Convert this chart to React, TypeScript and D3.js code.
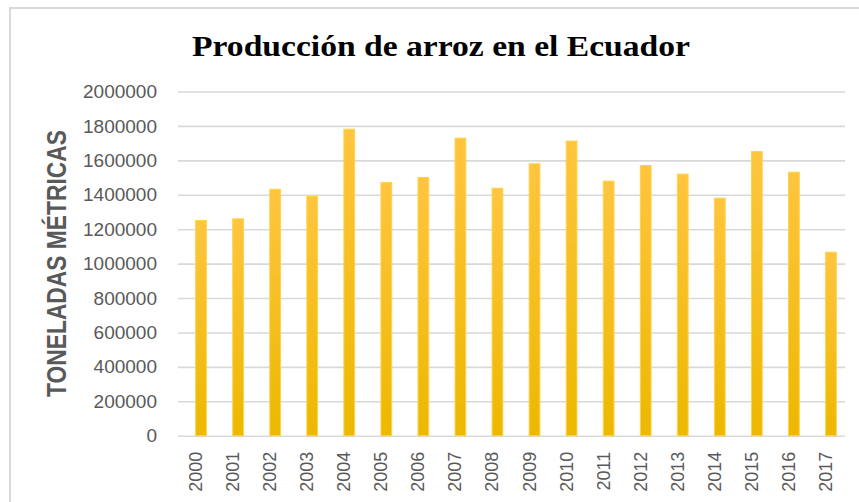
import { useEffect, useRef } from "react";
import * as d3 from "d3";

const years = ["2000", "2001", "2002", "2003", "2004", "2005", "2006", "2007", "2008",
    "2009", "2010", "2011", "2012", "2013", "2014", "2015", "2016", "2017"];
const production = [1250000, 1260000, 1432000, 1390000, 1781000, 1471000, 1500000, 1729000, 1438000,
    1580000, 1712000, 1479000, 1570000, 1520000, 1380000, 1651000, 1531000, 1066000];
const yTicks = [0, 200000, 400000, 600000, 800000, 1000000, 1200000, 1400000, 1600000, 1800000, 2000000];

const WIDTH = 859;
const HEIGHT = 502;
// plot area (gridlines) - bars in excel sit a bit to the right of it
const PLOT = { left: 178, right: 845, top: 91.5, bottom: 435.7 };
const BAR_SHIFT = 4.5;
const GRID = "#d9d9d9";
const TEXT = "#595959";

const BarChart = () => {
    const axesRef = useRef<SVGGElement>(null);

    const xScale = d3.scaleBand<string>()
        .domain(years)
        .range([PLOT.left + BAR_SHIFT, PLOT.right + BAR_SHIFT])
        .paddingInner(0.71)
        .paddingOuter(0.355);

    const yScale = d3.scaleLinear()
        .domain([0, 2000000])
        .range([PLOT.bottom, PLOT.top]);

    // axes through d3, then restyle like excel
    useEffect(() => {
        const g = d3.select(axesRef.current);
        g.selectAll("*").remove();

        const yAxis = g.append("g")
            .attr("transform", `translate(${PLOT.left},0)`)
            .call(d3.axisLeft(yScale).tickValues(yTicks).tickFormat(d3.format("d")).tickSize(-(PLOT.right - PLOT.left)).tickPadding(21));
        yAxis.select(".domain").remove();
        yAxis.selectAll(".tick line").attr("stroke", GRID).attr("stroke-width", 1.6);
        yAxis.selectAll(".tick text")
            .attr("fill", TEXT)
            .attr("font-size", 19)
            .attr("font-family", "'Liberation Sans', Arial, sans-serif");

        const xAxis = g.append("g")
            .attr("transform", `translate(0,${PLOT.bottom})`)
            .call(d3.axisBottom(xScale).tickSize(0));
        xAxis.select(".domain").remove();
        xAxis.selectAll(".tick text")
            .attr("fill", TEXT)
            .attr("font-size", 18)
            .attr("font-family", "'Liberation Sans', Arial, sans-serif")
            .attr("text-anchor", "end")
            .attr("dy", null)
            .attr("dominant-baseline", "central")
            .attr("transform", "translate(-5,16) rotate(-90)")
            .attr("x", 0)
            .attr("y", 0);
    }, []);

    return (
        <svg width={WIDTH} height={HEIGHT} style={{ position: "absolute", left: 0, top: 0, background: "#fff" }}>
            <defs>
                <linearGradient id="barFill" x1="0" y1="0" x2="0" y2="1">
                    <stop offset="0%" stopColor="#ffc53f" />
                    <stop offset="100%" stopColor="#ecb800" />
                </linearGradient>
            </defs>
            <rect x={10} y={8} width={WIDTH + 10} height={HEIGHT + 10} fill="#fff" stroke={GRID} strokeWidth={2} />
            <text x={441} y={56} textAnchor="middle" fontFamily="'Liberation Serif', 'Times New Roman', serif"
                fontWeight="bold" fontSize={30} fill="#000" textLength={498} lengthAdjust="spacingAndGlyphs">
                Producción de arroz en el Ecuador
            </text>
            <text transform={`translate(56,263.5) rotate(-90)`} textAnchor="middle" dominantBaseline="central"
                fontFamily="'Liberation Sans Narrow', 'Liberation Sans', Arial, sans-serif" fontWeight="bold"
                fontSize={28} fill={TEXT} textLength={267} lengthAdjust="spacingAndGlyphs">
                TONELADAS MÉTRICAS
            </text>
            <g ref={axesRef} />
            {years.map((yr, i) => (
                <rect
                    key={yr}
                    x={xScale(yr)}
                    y={yScale(production[i])}
                    width={xScale.bandwidth()}
                    height={yScale(0) - yScale(production[i])}
                    fill="url(#barFill)"
                    stroke="#ffd24a"
                    strokeWidth={1}
                />
            ))}
        </svg>
    );
};

export default function App() {
    return <BarChart />;
}
